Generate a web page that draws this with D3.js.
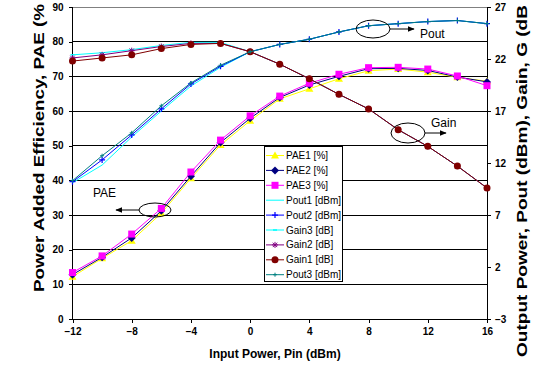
<!DOCTYPE html>
<html><head><meta charset="utf-8">
<script src="https://cdn.jsdelivr.net/npm/d3@7"></script>
<style>
body{margin:0;background:#fff;}
svg{display:block;font-family:"Liberation Sans",Arial,sans-serif;}
</style></head>
<body><svg id="c" width="537" height="372"></svg>
<script>
const pin = [-12,-10,-8,-6,-4,-2,0,2,4,6,8,10,12,14,16];
const PAE1 = [12.2,17.5,22.6,30.5,40.6,50.2,57.2,63.5,66.4,69.3,71.6,72.1,71.2,69.7,68.6];
const PAE2 = [12.8,17.8,23.4,31.2,41.2,50.9,57.9,63.9,67.5,70.0,72.2,72.3,71.7,69.8,68.4];
const PAE3 = [13.4,18.2,24.5,31.9,42.4,51.6,58.6,64.3,68.0,70.6,72.5,72.6,72.1,70.1,67.3];
const Pout1 = [10.1,11.8,14.5,17.0,19.4,21.2,22.7,23.4,23.9,24.6,25.2,25.4,25.6,25.7,25.4];
const Pout2 = [10.2,12.3,14.7,17.2,19.6,21.3,22.7,23.4,23.9,24.6,25.2,25.4,25.6,25.7,25.4];
const Pout3 = [10.3,12.7,14.9,17.5,19.7,21.4,22.7,23.4,23.9,24.6,25.2,25.4,25.6,25.7,25.4];
const Gain3 = [22.4,22.6,22.9,23.3,23.6,23.6,22.7,21.5,20.1,18.6,17.2,15.2,13.6,11.7,9.6];
const Gain2 = [22.1,22.4,22.8,23.2,23.5,23.5,22.7,21.5,20.1,18.6,17.2,15.2,13.6,11.7,9.6];
const Gain1 = [21.8,22.1,22.4,23.0,23.4,23.5,22.7,21.5,20.1,18.6,17.2,15.2,13.6,11.7,9.6];
const xTicks = [-12,-8,-4,0,4,8,12,16];
const yLeftTicks = [0,10,20,30,40,50,60,70,80,90];
const yRightTicks = [-3,2,7,12,17,22,27];

const svg = d3.select("#c");
const L=72.5, R=487, T=7, B=319;
const x = d3.scaleLinear().domain([-12,16]).range([L,R]);
const yL = d3.scaleLinear().domain([0,90]).range([B,T]);
const yR = d3.scaleLinear().domain([-3,27]).range([B,T]);

// gridlines
svg.append("g").selectAll("line").data(yLeftTicks.filter(d=>d>0&&d<90)).join("line")
  .attr("x1",L).attr("x2",R).attr("y1",d=>yL(d)).attr("y2",d=>yL(d))
  .attr("stroke","#000").attr("stroke-width",1).attr("shape-rendering","crispEdges");
svg.append("line").attr("x1",L).attr("x2",R).attr("y1",yL(90)).attr("y2",yL(90))
  .attr("stroke","#808080").attr("shape-rendering","crispEdges");

// axes
const axL = d3.axisLeft(yL).tickValues(yLeftTicks).tickSize(4).tickPadding(5);
const gL = svg.append("g").attr("transform",`translate(${L},0)`).call(axL);
const axR = d3.axisRight(yR).tickValues(yRightTicks).tickSize(4).tickPadding(4);
const gR = svg.append("g").attr("transform",`translate(${R},0)`).call(axR);
const axB = d3.axisBottom(x).tickValues(xTicks).tickSize(4).tickPadding(5);
const gB = svg.append("g").attr("transform",`translate(0,${B})`).call(axB);
[gL,gR,gB].forEach(g=>{
  g.selectAll(".domain").attr("stroke","#000").attr("shape-rendering","crispEdges");
  g.selectAll(".tick line").attr("stroke","#000").attr("shape-rendering","crispEdges");
  g.selectAll("text").attr("font-size","10px").attr("font-weight","bold")
   .attr("font-family","'Liberation Sans',Arial,sans-serif").attr("fill","#000");
});
gL.select(".domain").attr("d",`M-4,${B}H0V${T}`);
gR.select(".domain").attr("d",`M4,${B}H0V${T}`);

// axis titles
svg.append("text").attr("x",275).attr("y",358).attr("text-anchor","middle")
  .attr("font-size","12px").attr("font-weight","bold").text("Input Power, Pin (dBm)");
svg.append("text").attr("transform","translate(44,292) rotate(-90)").attr("text-anchor","start")
  .attr("font-size","14px").attr("font-weight","bold")
  .attr("textLength",288).attr("lengthAdjust","spacingAndGlyphs")
  .text("Power Added Efficiency, PAE (%");
svg.append("text").attr("transform","translate(527,357) rotate(-90)").attr("text-anchor","start")
  .attr("font-size","14px").attr("font-weight","bold")
  .attr("textLength",352).attr("lengthAdjust","spacingAndGlyphs")
  .text("Output Power, Pout (dBm), Gain, G (dB");

// series
const series = [
  {name:"PAE1 [%]", data:PAE1, axis:"L", color:"#FFFF00", marker:"tri"},
  {name:"PAE2 [%]", data:PAE2, axis:"L", color:"#000080", marker:"diamond"},
  {name:"PAE3 [%]", data:PAE3, axis:"L", color:"#FF00FF", marker:"square"},
  {name:"Pout1 [dBm]", data:Pout1, axis:"R", color:"#00FFFF", marker:"none"},
  {name:"Pout2 [dBm]", data:Pout2, axis:"R", color:"#0000FF", marker:"plus"},
  {name:"Gain3 [dB]", data:Gain3, axis:"R", color:"#00FFFF", marker:"dash"},
  {name:"Gain2 [dB]", data:Gain2, axis:"R", color:"#800080", marker:"star"},
  {name:"Gain1 [dB]", data:Gain1, axis:"R", color:"#800000", marker:"circle"},
  {name:"Pout3 [dBm]", data:Pout3, axis:"R", color:"#008080", marker:"smallplus"}
];

function drawMarker(g, type, color, cx, cy){
  switch(type){
    case "tri": g.append("path").attr("d",`M${cx},${cy-4}L${cx+4},${cy+3}L${cx-4},${cy+3}Z`).attr("fill",color); break;
    case "diamond": g.append("path").attr("d",`M${cx},${cy-4}L${cx+4},${cy}L${cx},${cy+4}L${cx-4},${cy}Z`).attr("fill",color); break;
    case "square": g.append("rect").attr("x",cx-3.5).attr("y",cy-3.5).attr("width",7).attr("height",7).attr("fill",color); break;
    case "circle": g.append("circle").attr("cx",cx).attr("cy",cy).attr("r",3.5).attr("fill",color); break;
    case "plus": g.append("path").attr("d",`M${cx-3},${cy}H${cx+3}M${cx},${cy-3}V${cy+3}`).attr("stroke",color).attr("stroke-width",1.2); break;
    case "smallplus": g.append("path").attr("d",`M${cx-2},${cy}H${cx+2}M${cx},${cy-2}V${cy+2}`).attr("stroke",color).attr("stroke-width",1); break;
    case "dash": g.append("path").attr("d",`M${cx-2},${cy}H${cx+2}`).attr("stroke",color).attr("stroke-width",1.5); break;
    case "star": g.append("path").attr("d",`M${cx-3},${cy}H${cx+3}M${cx},${cy-3}V${cy+3}M${cx-2.2},${cy-2.2}L${cx+2.2},${cy+2.2}M${cx-2.2},${cy+2.2}L${cx+2.2},${cy-2.2}`).attr("stroke",color).attr("stroke-width",1); break;
  }
}

series.forEach(s=>{
  const ys = s.axis==="L"?yL:yR;
  const line = d3.line().x((d,i)=>x(pin[i])).y(d=>ys(d));
  const g = svg.append("g");
  g.append("path").datum(s.data).attr("d",line).attr("fill","none")
    .attr("stroke",s.color).attr("stroke-width",1);
  s.data.forEach((d,i)=>drawMarker(g,s.marker,s.color,x(pin[i]),ys(d)));
});

// annotations
svg.append("defs").append("marker").attr("id","ah").attr("viewBox","0 0 10 10")
  .attr("refX",9).attr("refY",5).attr("markerWidth",7).attr("markerHeight",7).attr("orient","auto")
  .append("path").attr("d","M0,1L10,5L0,9Z").attr("fill","#000");
const ann = [
  {cx:373, cy:29, rx:17, ry:9, ax1:390, ax2:414, text:"Pout", tx:420, ty:38},
  {cx:408, cy:133, rx:17, ry:10, ax1:425, ax2:446, text:"Gain", tx:431, ty:127},
  {cx:155, cy:210, rx:16, ry:7, ax1:139, ax2:116, text:"PAE", tx:93, ty:197}
];
ann.forEach(a=>{
  svg.append("ellipse").attr("cx",a.cx).attr("cy",a.cy).attr("rx",a.rx).attr("ry",a.ry)
    .attr("fill","none").attr("stroke","#000").attr("stroke-width",1);
  svg.append("line").attr("x1",a.ax1).attr("x2",a.ax2).attr("y1",a.cy).attr("y2",a.cy)
    .attr("stroke","#000").attr("stroke-width",1).attr("marker-end","url(#ah)");
  svg.append("text").attr("x",a.tx).attr("y",a.ty).attr("font-size","12px").text(a.text);
});

// legend
const lg = svg.append("g");
lg.append("rect").attr("x",264.5).attr("y",146.5).attr("width",78).attr("height",135)
  .attr("fill","#fff").attr("stroke","#000").attr("stroke-width",1);
series.forEach((s,i)=>{
  const cy = 155.5 + i*14.9;
  lg.append("line").attr("x1",266).attr("x2",284).attr("y1",cy).attr("y2",cy)
    .attr("stroke",s.color).attr("stroke-width",1);
  drawMarker(lg,s.marker,s.color,275,cy);
  lg.append("text").attr("x",286).attr("y",cy+3.5).attr("font-size","10px").text(s.name);
});
</script></body></html>
